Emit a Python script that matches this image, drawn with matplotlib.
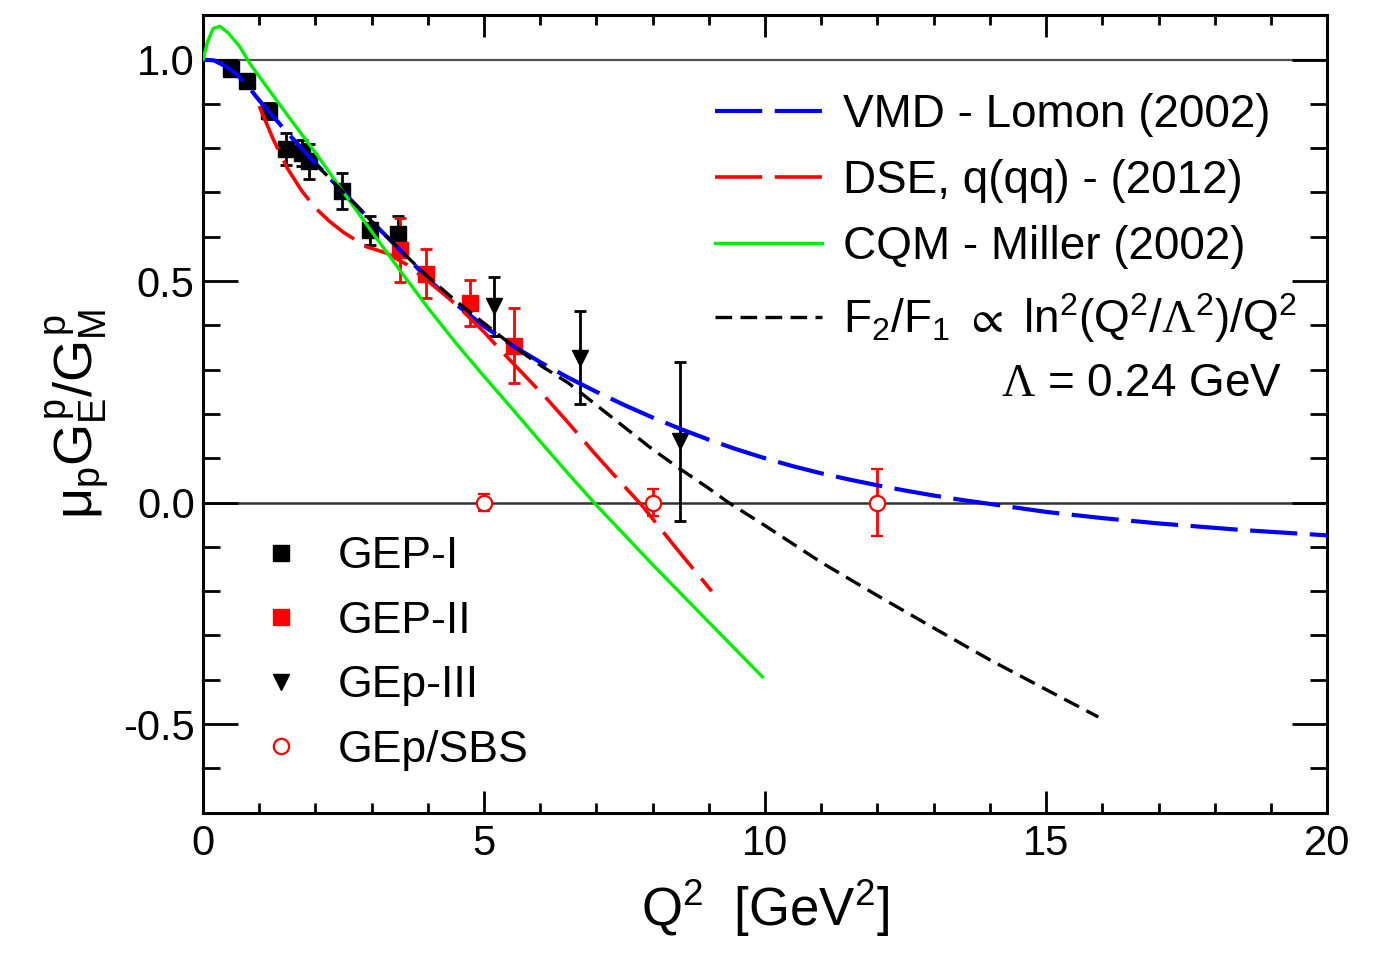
import matplotlib
matplotlib.use('Agg')
import matplotlib.pyplot as plt
from matplotlib.lines import Line2D
from matplotlib.ticker import MultipleLocator, FormatStrFormatter

plt.rcParams['font.family'] = ['Liberation Sans', 'DejaVu Sans']
plt.rcParams['mathtext.fontset'] = 'custom'
plt.rcParams['mathtext.rm'] = 'Liberation Sans'
plt.rcParams['mathtext.it'] = 'Liberation Sans'
plt.rcParams['mathtext.sf'] = 'Liberation Serif'
plt.rcParams['mathtext.fallback'] = 'stixsans'
plt.rcParams['lines.scale_dashes'] = False

# measured ratios mu_p G_E/G_M
gep1_q2 = [0.49, 0.79, 1.18, 1.48, 1.77, 1.88, 2.47, 2.97, 3.47]
gep1_r = [0.979, 0.951, 0.883, 0.798, 0.789, 0.770, 0.703, 0.615, 0.606]
gep1_err = [0.010, 0.012, 0.018, 0.036, 0.030, 0.040, 0.040, 0.033, 0.040]

gep2_q2 = [3.50, 3.97, 4.75, 5.54]
gep2_r = [0.571, 0.517, 0.450, 0.354]
gep2_err = [0.072, 0.055, 0.052, 0.085]

gep3_q2 = [5.17, 6.70, 8.49]
gep3_r = [0.443, 0.327, 0.138]
gep3_err = [0.066, 0.105, 0.179]

sbs_q2 = [5.0, 8.0, 12.0]
sbs_r = [0.0, 0.0, 0.0]
sbs_err = [0.020, 0.030, 0.075]

# model curves
vmd_q2 = [0.0, 0.2, 0.4, 0.6, 0.8, 1.0, 1.5, 2.0, 2.5, 3.0, 3.5, 4.0, 4.5, 5.0,
          5.5, 6.0, 6.5, 7.0, 7.5, 8.0, 8.5, 9.0, 9.5, 10.0, 10.5, 11.0, 11.5,
          12.0, 12.5, 13.0, 13.5, 14.0, 14.5, 15.0, 15.5, 16.0, 16.5, 17.0, 17.5,
          18.0, 18.5, 19.0, 19.5, 20.0]
vmd_r = [1.0, 0.998, 0.985, 0.967, 0.94, 0.908, 0.835, 0.766, 0.70, 0.635, 0.571,
         0.505, 0.448, 0.398, 0.355, 0.317, 0.282, 0.250, 0.220, 0.192, 0.166,
         0.142, 0.120, 0.100, 0.082, 0.066, 0.052, 0.039, 0.027, 0.016, 0.006,
         -0.003, -0.012, -0.021, -0.028, -0.035, -0.041, -0.047, -0.052, -0.057,
         -0.062, -0.066, -0.070, -0.074]

dse_q2 = [1.0, 1.25, 1.5, 1.75, 2.0, 2.25, 2.5, 2.9, 3.27, 3.63, 4.0, 4.34, 4.6,
          5.0, 5.23, 5.46, 6.12, 6.5, 6.94, 7.4, 7.8, 8.4, 9.05]
dse_r = [0.895, 0.82, 0.755, 0.705, 0.665, 0.635, 0.61, 0.578, 0.563, 0.537, 0.50,
         0.465, 0.435, 0.385, 0.353, 0.322, 0.234, 0.18, 0.115, 0.05, -0.005, -0.10,
         -0.20]

cqm_q2 = [0.0, 0.08, 0.18, 0.3, 0.45, 0.65, 0.84, 1.0, 1.5, 2.0, 2.5, 3.0, 3.5,
          4.0, 4.5, 5.0, 5.5, 6.0, 6.5, 7.0, 8.0, 9.0, 9.95]
cqm_r = [1.0, 1.04, 1.07, 1.075, 1.06, 1.03, 0.99, 0.962, 0.875, 0.79, 0.70, 0.612,
         0.525, 0.44, 0.36, 0.285, 0.212, 0.138, 0.065, -0.006, -0.14, -0.27, -0.393]

pqcd_q2 = [2.0, 2.5, 3.0, 3.5, 4.0, 4.5, 5.0, 5.5, 6.0, 6.5, 7.0, 7.5, 8.0, 8.5,
           9.0, 9.35, 10.0, 11.0, 12.0, 13.0, 14.0, 15.0, 15.93]
pqcd_r = [0.765, 0.70, 0.635, 0.571, 0.51, 0.455, 0.405, 0.355, 0.31, 0.27, 0.22,
          0.17, 0.12, 0.075, 0.032, 0.0, -0.052, -0.135, -0.21, -0.283, -0.355,
          -0.422, -0.484]

fig = plt.figure(figsize=(13.97, 9.55), dpi=100)
ax = fig.add_axes([0.1453, 0.149, 0.8047, 0.835])

ax.axhline(1.0, color='0.3', lw=1.6, zorder=1)
ax.axhline(0.0, color='0.2', lw=1.8, zorder=1)

ebar = dict(capsize=4.5, elinewidth=2.0, capthick=2.0, linestyle='none', zorder=3)
ax.errorbar(gep1_q2, gep1_r, yerr=gep1_err, fmt='s', color='black', ms=11.5, **ebar)
ax.errorbar(gep2_q2, gep2_r, yerr=gep2_err, fmt='s', color='red', ms=11.5, **ebar)
ax.errorbar(gep3_q2, gep3_r, yerr=gep3_err, fmt='v', color='black', ms=11.5, **ebar)
ax.errorbar(sbs_q2, sbs_r, yerr=sbs_err, fmt='o', color='red', ms=11, mfc='white',
            mew=1.6, **ebar)

l_vmd, = ax.plot(vmd_q2, vmd_r, color='blue', lw=3.0, dashes=(34, 9), zorder=4)
l_dse, = ax.plot(dse_q2, dse_r, color='red', lw=2.6, dashes=(34, 9), zorder=4)
l_cqm, = ax.plot(cqm_q2, cqm_r, color='#00ee00', lw=2.4, zorder=4)
l_pqcd, = ax.plot(pqcd_q2, pqcd_r, color='black', lw=2.4, dashes=(12, 6), zorder=4)

ax.set_xlim(0, 20)
ax.set_ylim(-0.7, 1.1)
ax.xaxis.set_major_locator(MultipleLocator(5))
ax.xaxis.set_minor_locator(MultipleLocator(1))
ax.yaxis.set_major_locator(MultipleLocator(0.5))
ax.yaxis.set_minor_locator(MultipleLocator(0.1))
ax.yaxis.set_major_formatter(FormatStrFormatter('%.1f'))
ax.tick_params(which='both', direction='in', top=True, right=True, width=2.0,
               labelsize=30)
ax.tick_params(axis='x', which='major', length=16, pad=8)
ax.tick_params(axis='x', which='minor', length=7.5)
ax.tick_params(axis='y', which='major', length=25, pad=6)
ax.tick_params(axis='y', which='minor', length=12)
for sp in ax.spines.values():
    sp.set_linewidth(2.2)

ax.set_xlabel(r'Q$^2$  [GeV$^2$]', fontsize=38, labelpad=10)
ax.set_ylabel(r'$\mu_p G_E^p/G_M^p$', fontsize=39, labelpad=8)

leg1 = ax.legend([l_vmd, l_dse, l_cqm, l_pqcd],
                 ['VMD - Lomon (2002)', 'DSE, q(qq) - (2012)', 'CQM - Miller (2002)',
                  r'F$_2$/F$_1$ $\propto$ ln$^2$(Q$^2$/$\mathsf{\Lambda}^2$)/Q$^2$'],
                 loc='upper left', bbox_to_anchor=(0.4555, 0.902), frameon=False,
                 fontsize=33, handlelength=2.33, handletextpad=0.46,
                 labelspacing=0.48, borderpad=0, borderaxespad=0)
ax.add_artist(leg1)
ax.text(0.96, 0.538, r'$\mathsf{\Lambda}$ = 0.24 GeV', transform=ax.transAxes,
        fontsize=33, ha='right', va='center')

marks = [Line2D([], [], marker='s', color='black', ls='none', ms=11),
         Line2D([], [], marker='s', color='red', ls='none', ms=11),
         Line2D([], [], marker='v', color='black', ls='none', ms=11),
         Line2D([], [], marker='o', color='red', mfc='none', mew=1.6, ls='none', ms=11)]
ax.legend(marks, ['GEP-I', 'GEP-II', 'GEp-III', 'GEp/SBS'], loc='lower left',
          bbox_to_anchor=(0.0498, 0.0526), frameon=False, fontsize=32, numpoints=1,
          handlelength=1.0, handletextpad=0.77, labelspacing=0.53, borderpad=0,
          borderaxespad=0)

fig.savefig('out.png', dpi=100)
